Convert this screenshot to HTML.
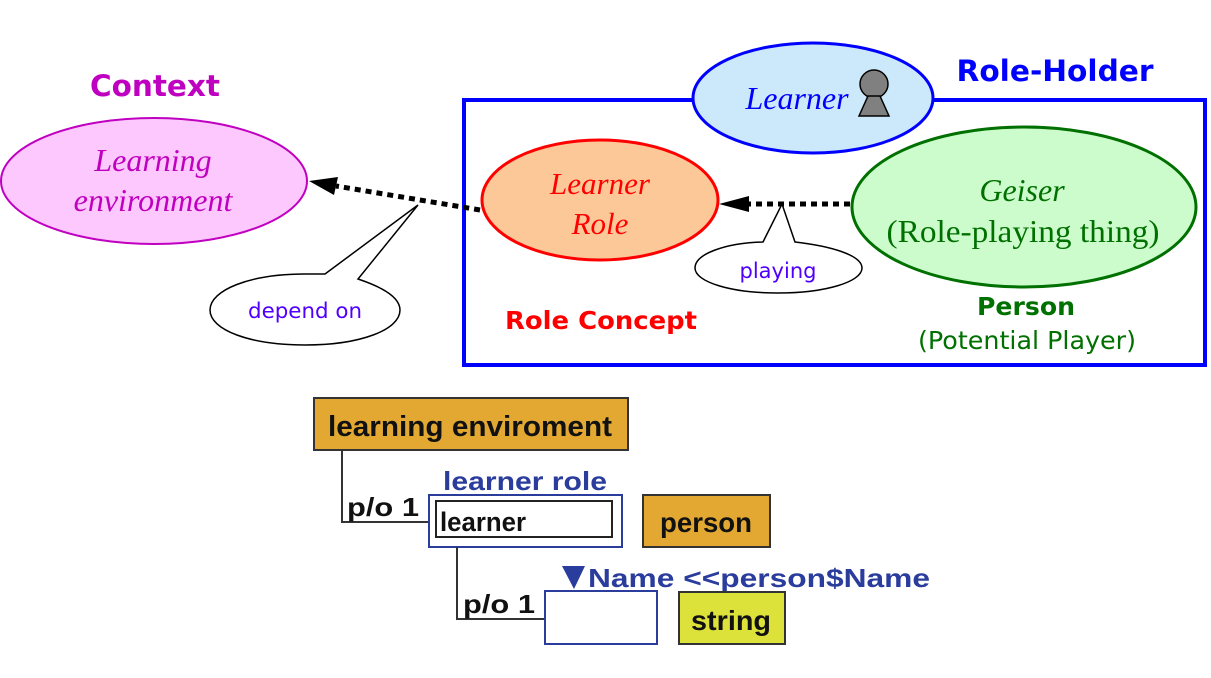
<!DOCTYPE html>
<html><head><meta charset="utf-8"><style>
html,body{margin:0;padding:0;background:#fff;width:1211px;height:678px;overflow:hidden}
svg{display:block}
.sf{font-family:"Liberation Serif",serif;font-style:italic}
.ss{font-family:"DejaVu Sans","Liberation Sans",sans-serif}
.ar{font-family:"Liberation Sans",sans-serif;font-weight:bold}
</style></head><body>
<svg width="1211" height="678" viewBox="0 0 1211 678" xmlns="http://www.w3.org/2000/svg">
<!-- Context -->
<text x="155" y="96" text-anchor="middle" class="ss" font-weight="bold" font-size="29" fill="#c000c0" textLength="130" lengthAdjust="spacingAndGlyphs">Context</text>
<ellipse cx="154" cy="181" rx="153" ry="63" fill="#fdc8fd" stroke="#c000c0" stroke-width="2"/>
<text x="153" y="171" text-anchor="middle" class="sf" font-size="32" fill="#c000c0">Learning</text>
<text x="153" y="211" text-anchor="middle" class="sf" font-size="32" fill="#c000c0">environment</text>
<!-- Role holder box -->
<rect x="464" y="100" width="741" height="265" fill="none" stroke="#0000ff" stroke-width="4"/>
<text x="1055" y="81" text-anchor="middle" class="ss" font-weight="bold" font-size="29" fill="#0000ff" textLength="197" lengthAdjust="spacingAndGlyphs">Role-Holder</text>
<ellipse cx="813" cy="98" rx="120" ry="55" fill="#cce9fc" stroke="#0000ff" stroke-width="3"/>
<text x="797" y="109" text-anchor="middle" class="sf" font-size="32" fill="#0000ff">Learner</text>
<circle cx="874" cy="84" r="14" fill="#808080" stroke="#000" stroke-width="1.5"/>
<polygon points="868,96 880,96 889,116 859,116" fill="#808080" stroke="#000" stroke-width="1.5"/>
<!-- depend on arrow -->
<line x1="480" y1="210" x2="336" y2="186" stroke="#000" stroke-width="5" stroke-dasharray="6,5"/>
<polygon points="309,181 338,177 334,195" fill="#000"/>
<!-- Learner role -->
<ellipse cx="600" cy="200" rx="118" ry="60" fill="#fcc898" stroke="#ff0000" stroke-width="3"/>
<text x="600" y="194" text-anchor="middle" class="sf" font-size="31" fill="#ff0000">Learner</text>
<text x="600" y="234" text-anchor="middle" class="sf" font-size="31" fill="#ff0000">Role</text>
<text x="601" y="329" text-anchor="middle" class="ss" font-weight="bold" font-size="25" fill="#ff0000" textLength="192" lengthAdjust="spacingAndGlyphs">Role Concept</text>
<!-- callout depend on -->
<path d="M325,274 L418,205 L358,279 C385,288 400,298 400,310 C400,330 360,345 305,345 C250,345 210,330 210,310 C210,290 250,274 305,274 Z" fill="#fff" stroke="#000" stroke-width="1.5"/>
<text x="305" y="318" text-anchor="middle" class="ss" font-size="21" fill="#5000ff" textLength="114" lengthAdjust="spacingAndGlyphs">depend on</text>
<!-- playing arrow -->
<line x1="850" y1="204" x2="748" y2="204" stroke="#000" stroke-width="5" stroke-dasharray="6,5"/>
<polygon points="719,204 749,196 749,212" fill="#000"/>
<path d="M763,242 L782,204 L795,242 C830,246 862,255 862,268 C862,282 825,293 778,293 C731,293 695,282 695,268 C695,254 725,243 763,242 Z" fill="#fff" stroke="#000" stroke-width="1.5"/>
<text x="778" y="278" text-anchor="middle" class="ss" font-size="21" fill="#5000ff" textLength="77" lengthAdjust="spacingAndGlyphs">playing</text>
<!-- Geiser -->
<ellipse cx="1024" cy="207" rx="172" ry="80" fill="#ccfccc" stroke="#007000" stroke-width="3"/>
<text x="1022" y="201" text-anchor="middle" class="sf" font-size="32" fill="#007000">Geiser</text>
<text x="1023" y="242" text-anchor="middle" font-family="Liberation Serif,serif" font-size="32" fill="#007000" textLength="273" lengthAdjust="spacingAndGlyphs">(Role-playing thing)</text>
<text x="1026" y="315" text-anchor="middle" class="ss" font-weight="bold" font-size="25" fill="#007000" textLength="98" lengthAdjust="spacingAndGlyphs">Person</text>
<text x="1027" y="349" text-anchor="middle" class="ss" font-size="25" fill="#007000" textLength="218" lengthAdjust="spacingAndGlyphs">(Potential Player)</text>
<!-- bottom tree -->
<rect x="314" y="398" width="314" height="52" fill="#e2a832" stroke="#333" stroke-width="2"/>
<text x="470" y="436" text-anchor="middle" class="ar" font-size="29" fill="#111" textLength="284" lengthAdjust="spacingAndGlyphs">learning enviroment</text>
<polyline points="342,450 342,522 430,522" fill="none" stroke="#333" stroke-width="2"/>
<text x="347" y="516" class="ar" font-size="26" fill="#111" textLength="72" lengthAdjust="spacingAndGlyphs">p/o 1</text>
<text x="443" y="490" class="ar" font-size="26" fill="#2a3c9c" textLength="164" lengthAdjust="spacingAndGlyphs">learner role</text>
<rect x="429" y="495" width="193" height="52" fill="#fff" stroke="#2a3c9c" stroke-width="2"/>
<rect x="436" y="501" width="176" height="36" fill="#fff" stroke="#222" stroke-width="2"/>
<text x="440" y="531" class="ar" font-size="27" fill="#111" textLength="86" lengthAdjust="spacingAndGlyphs">learner</text>
<rect x="643" y="495" width="127" height="52" fill="#e2a832" stroke="#333" stroke-width="2"/>
<text x="706" y="532" text-anchor="middle" class="ar" font-size="28" fill="#111" textLength="92" lengthAdjust="spacingAndGlyphs">person</text>
<polyline points="457,547 457,619 546,619" fill="none" stroke="#333" stroke-width="2"/>
<text x="463" y="613" class="ar" font-size="26" fill="#111" textLength="72" lengthAdjust="spacingAndGlyphs">p/o 1</text>
<polygon points="562,566 585,566 574,589" fill="#2a3c9c"/>
<text x="588" y="587" class="ar" font-size="26" fill="#2a3c9c" textLength="342" lengthAdjust="spacingAndGlyphs">Name &lt;&lt;person$Name</text>
<rect x="545" y="591" width="112" height="53" fill="#fff" stroke="#2a3c9c" stroke-width="2"/>
<rect x="679" y="592" width="106" height="52" fill="#dde23a" stroke="#333" stroke-width="2"/>
<text x="731" y="630" text-anchor="middle" class="ar" font-size="28" fill="#111" textLength="80" lengthAdjust="spacingAndGlyphs">string</text>
</svg>
</body></html>
